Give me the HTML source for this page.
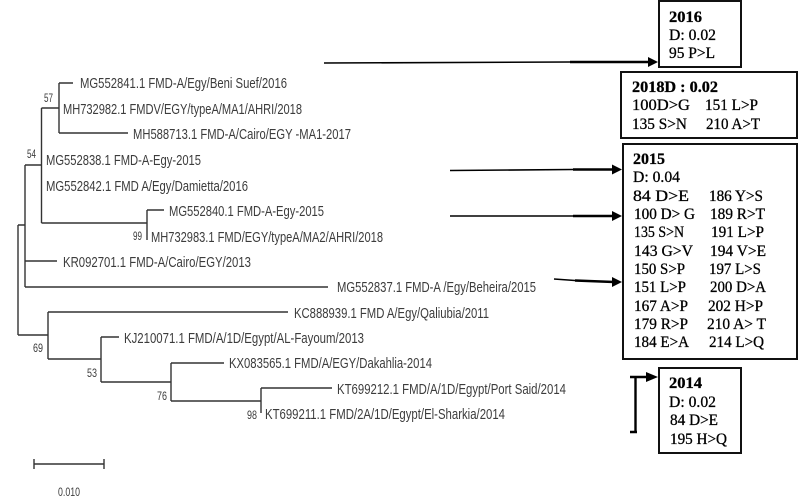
<!DOCTYPE html>
<html><head><meta charset="utf-8"><style>
html,body{margin:0;padding:0;background:#fff}
svg{display:block;filter:blur(.35px)}
.t text{font-family:"Liberation Sans",sans-serif;font-size:14.5px;fill:#3c3c3c}
.n text{font-family:"Liberation Sans",sans-serif;font-size:12px;fill:#3c3c3c}
.b text{font-family:"Liberation Serif",serif;font-size:16px;fill:#000;stroke:#000;stroke-width:.3}
.b text.h{font-weight:bold}
</style></head><body>
<svg width="799" height="503" viewBox="0 0 799 503" xmlns="http://www.w3.org/2000/svg">
<g stroke="#333" stroke-width="1.4" fill="none">
<path d="M18 225V335M18 225H25M25 165V287M25 165H41.5M41.5 108V223M41.5 108H59M59 83V133M59 83H73M59 133H128M41.5 223H147M147 210V240M147 210H164M25 261H57M25 287H328"/>
<path d="M18 335H48M48 312V359M48 312H288M48 359H101M101 337V382M101 337H119M101 382H171M171 363V401M171 363H224M171 401H261M261 388V413M261 388H332"/>
<path d="M34 464H104M34 459V469M104 459V469"/>
</g>
<g class="t">
<text x="80" y="88" textLength="207" lengthAdjust="spacingAndGlyphs">MG552841.1 FMD-A/Egy/Beni Suef/2016</text>
<text x="63" y="114" textLength="239" lengthAdjust="spacingAndGlyphs">MH732982.1 FMDV/EGY/typeA/MA1/AHRI/2018</text>
<text x="133" y="139" textLength="218" lengthAdjust="spacingAndGlyphs">MH588713.1 FMD-A/Cairo/EGY -MA1-2017</text>
<text x="46" y="165" textLength="155" lengthAdjust="spacingAndGlyphs">MG552838.1 FMD-A-Egy-2015</text>
<text x="46" y="191" textLength="202" lengthAdjust="spacingAndGlyphs">MG552842.1 FMD A/Egy/Damietta/2016</text>
<text x="169" y="216" textLength="155" lengthAdjust="spacingAndGlyphs">MG552840.1 FMD-A-Egy-2015</text>
<text x="151" y="242" textLength="232" lengthAdjust="spacingAndGlyphs">MH732983.1 FMD/EGY/typeA/MA2/AHRI/2018</text>
<text x="63" y="267" textLength="188" lengthAdjust="spacingAndGlyphs">KR092701.1 FMD-A/Cairo/EGY/2013</text>
<text x="337" y="292" textLength="199" lengthAdjust="spacingAndGlyphs">MG552837.1 FMD-A /Egy/Beheira/2015</text>
<text x="294" y="318" textLength="195" lengthAdjust="spacingAndGlyphs">KC888939.1 FMD A/Egy/Qaliubia/2011</text>
<text x="124" y="343" textLength="240" lengthAdjust="spacingAndGlyphs">KJ210071.1 FMD/A/1D/Egypt/AL-Fayoum/2013</text>
<text x="229" y="368" textLength="203" lengthAdjust="spacingAndGlyphs">KX083565.1 FMD/A/EGY/Dakahlia-2014</text>
<text x="337" y="394" textLength="229" lengthAdjust="spacingAndGlyphs">KT699212.1 FMD/A/1D/Egypt/Port Said/2014</text>
<text x="265" y="419" textLength="240" lengthAdjust="spacingAndGlyphs">KT699211.1 FMD/2A/1D/Egypt/El-Sharkia/2014</text>
</g>
<g class="n">
<text x="44" y="102" textLength="9" lengthAdjust="spacingAndGlyphs">57</text>
<text x="27" y="158" textLength="9" lengthAdjust="spacingAndGlyphs">54</text>
<text x="133" y="240" textLength="9" lengthAdjust="spacingAndGlyphs">99</text>
<text x="33" y="352" textLength="10" lengthAdjust="spacingAndGlyphs">69</text>
<text x="87" y="377" textLength="10" lengthAdjust="spacingAndGlyphs">53</text>
<text x="157" y="400" textLength="10" lengthAdjust="spacingAndGlyphs">76</text>
<text x="247" y="419" textLength="10" lengthAdjust="spacingAndGlyphs">98</text>
<text x="58" y="496" textLength="22" lengthAdjust="spacingAndGlyphs">0.010</text>
</g>
<g fill="none" stroke="#111" stroke-width="2">
<rect x="659" y="1" width="82" height="66"/>
<rect x="621" y="72" width="176" height="66"/>
<rect x="623" y="144" width="174" height="215"/>
<rect x="659" y="368" width="82" height="85"/>
</g>
<g stroke="#000" fill="none" stroke-width="1.6">
<path d="M324 63L570 62"/><path d="M450 170.5L573 169.5"/><path d="M450 216H573"/><path d="M554 279L575 280.5"/>
</g>
<g stroke="#000" fill="none" stroke-width="2.4">
<path d="M570 62H650"/><path d="M573 169.5H614"/><path d="M573 216H614"/><path d="M575 280.5L614 282"/>
<path d="M630 377H650M635.5 377V432M630 432H637"/>
</g>
<g fill="#000">
<path d="M658 62L648 57V67Z"/><path d="M622 169.5L612 164.5V174.5Z"/><path d="M622 216L612 211V221Z"/><path d="M622 282L612 277V287Z"/><path d="M658 377L646 372V382Z"/>
</g>
<g class="b">
<text class="h" x="669" y="22" textLength="33" lengthAdjust="spacingAndGlyphs">2016</text>
<text x="669" y="40" textLength="47" lengthAdjust="spacingAndGlyphs">D: 0.02</text>
<text x="669" y="58" textLength="46" lengthAdjust="spacingAndGlyphs">95 P&gt;L</text>

<text class="h" x="632" y="92" textLength="86" lengthAdjust="spacingAndGlyphs">2018D : 0.02</text>
<text x="632" y="110" textLength="58" lengthAdjust="spacingAndGlyphs">100D&gt;G</text>
<text x="705" y="110" textLength="53" lengthAdjust="spacingAndGlyphs">151 L&gt;P</text>
<text x="632" y="129" textLength="55" lengthAdjust="spacingAndGlyphs">135 S&gt;N</text>
<text x="706" y="129" textLength="54" lengthAdjust="spacingAndGlyphs">210 A&gt;T</text>

<text class="h" x="633" y="164" textLength="32" lengthAdjust="spacingAndGlyphs">2015</text>
<text x="633" y="182" textLength="47" lengthAdjust="spacingAndGlyphs">D: 0.04</text>
<text x="633" y="201" textLength="56" lengthAdjust="spacingAndGlyphs">84  D&gt;E</text>
<text x="709" y="201" textLength="54" lengthAdjust="spacingAndGlyphs">186 Y&gt;S</text>
<text x="634" y="219" textLength="61" lengthAdjust="spacingAndGlyphs">100 D&gt; G</text>
<text x="710" y="219" textLength="55" lengthAdjust="spacingAndGlyphs">189 R&gt;T</text>
<text x="634" y="237" textLength="50" lengthAdjust="spacingAndGlyphs">135 S&gt;N</text>
<text x="711" y="237" textLength="53" lengthAdjust="spacingAndGlyphs">191 L&gt;P</text>
<text x="634" y="256" textLength="59" lengthAdjust="spacingAndGlyphs">143 G&gt;V</text>
<text x="710" y="256" textLength="56" lengthAdjust="spacingAndGlyphs">194 V&gt;E</text>
<text x="634" y="274" textLength="51" lengthAdjust="spacingAndGlyphs">150 S&gt;P</text>
<text x="709" y="274" textLength="52" lengthAdjust="spacingAndGlyphs">197 L&gt;S</text>
<text x="634" y="292" textLength="52" lengthAdjust="spacingAndGlyphs">151 L&gt;P</text>
<text x="710" y="292" textLength="56" lengthAdjust="spacingAndGlyphs">200 D&gt;A</text>
<text x="634" y="311" textLength="54" lengthAdjust="spacingAndGlyphs">167 A&gt;P</text>
<text x="708" y="311" textLength="55" lengthAdjust="spacingAndGlyphs">202 H&gt;P</text>
<text x="634" y="329" textLength="54" lengthAdjust="spacingAndGlyphs">179 R&gt;P</text>
<text x="707" y="329" textLength="59" lengthAdjust="spacingAndGlyphs">210 A&gt; T</text>
<text x="634" y="347" textLength="55" lengthAdjust="spacingAndGlyphs">184 E&gt;A</text>
<text x="709" y="347" textLength="55" lengthAdjust="spacingAndGlyphs">214 L&gt;Q</text>

<text class="h" x="669" y="388" textLength="33" lengthAdjust="spacingAndGlyphs">2014</text>
<text x="669" y="407" textLength="47" lengthAdjust="spacingAndGlyphs">D: 0.02</text>
<text x="670" y="425" textLength="48" lengthAdjust="spacingAndGlyphs">84 D&gt;E</text>
<text x="670" y="444" textLength="57" lengthAdjust="spacingAndGlyphs">195 H&gt;Q</text>
</g>
</svg>
</body></html>
